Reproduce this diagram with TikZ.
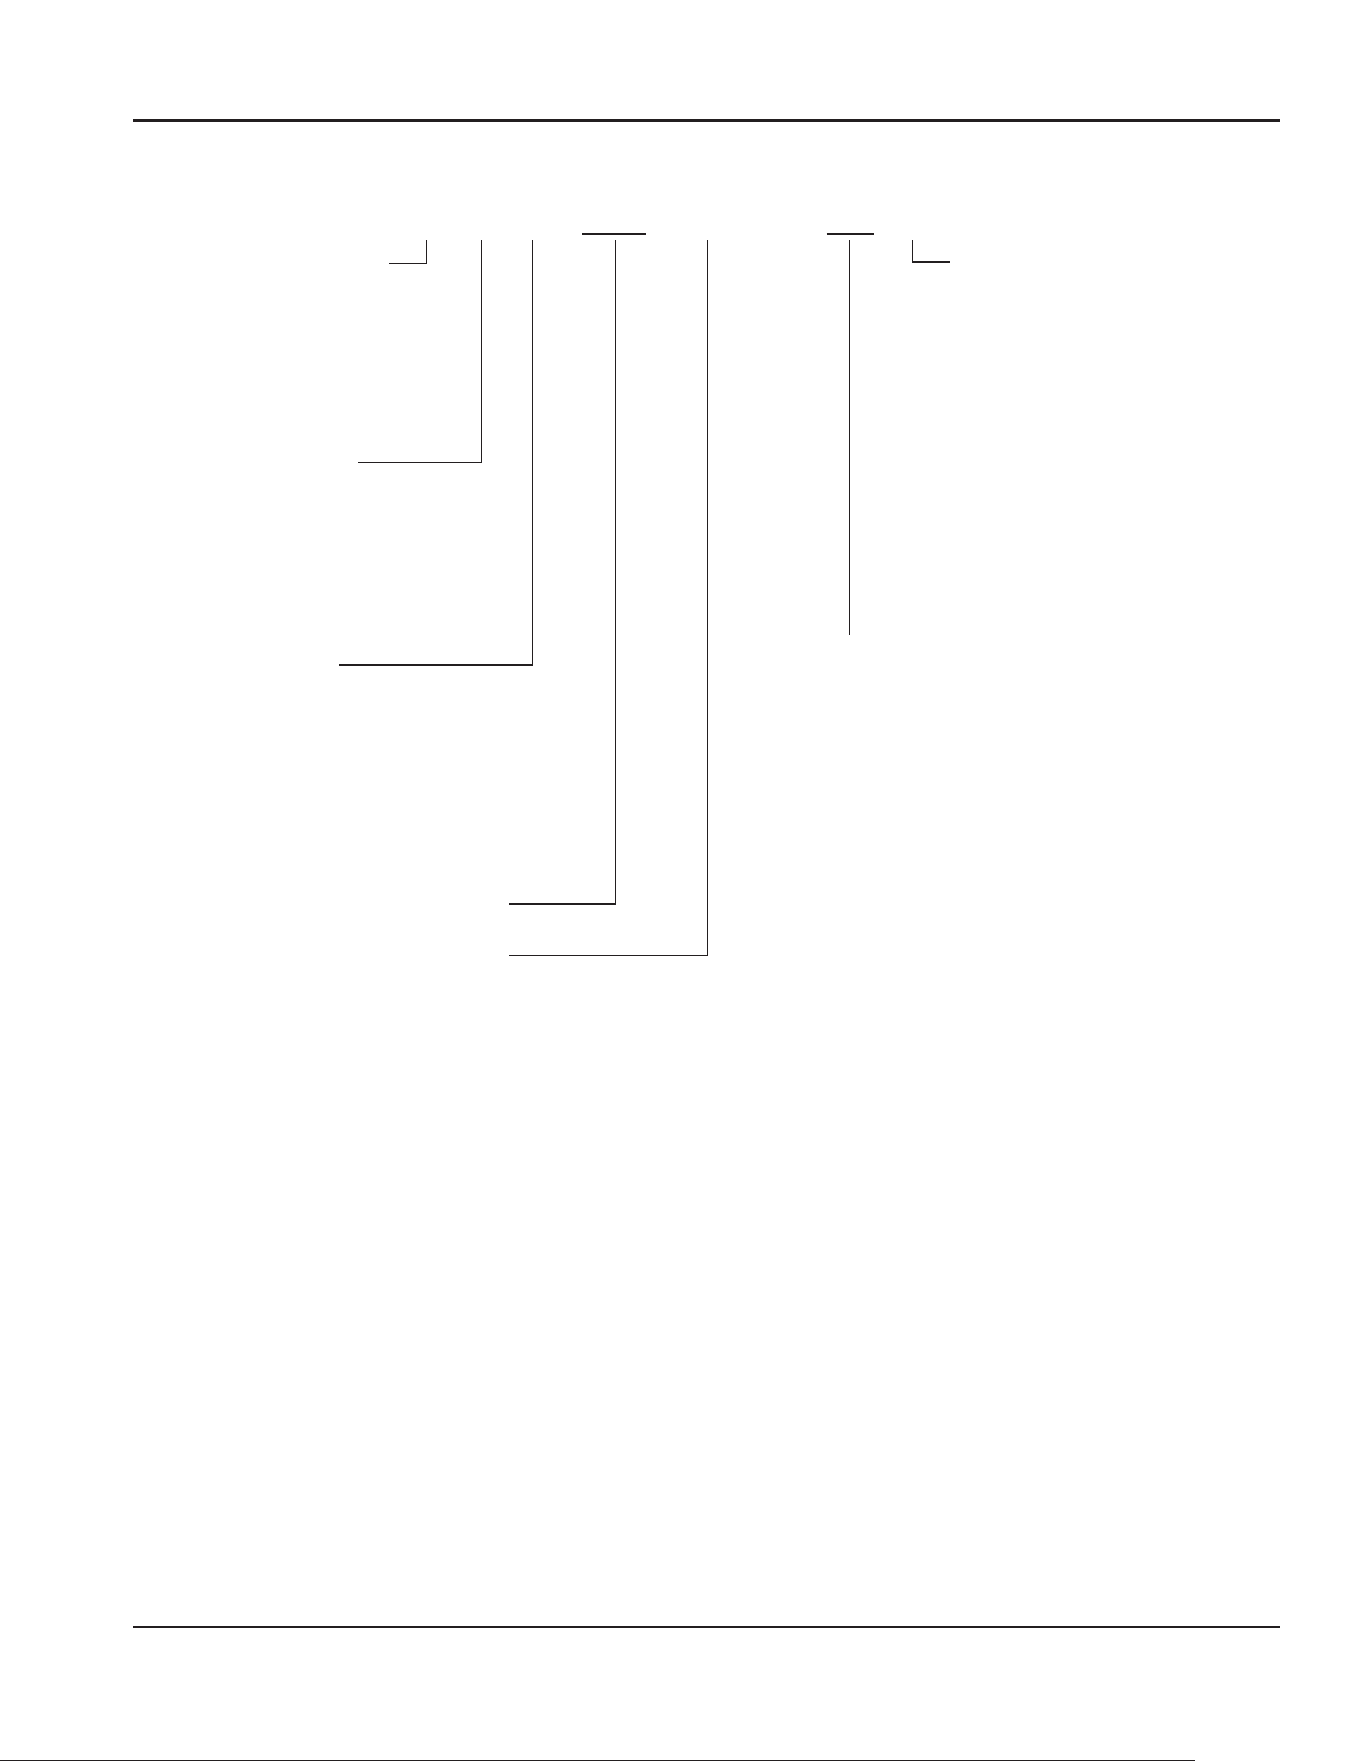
\documentclass[tikz,border=0pt]{standalone}
\usepackage{tikz}
\usetikzlibrary{positioning, calc}
\definecolor{ink}{HTML}{231F20}

\begin{document}
\begin{tikzpicture}
  [
      x=0.45bp, y=-0.45bp,
      rule/.style={line width=1.36pt, color=ink},
      thinrule/.style={line width=1.05pt, color=ink},
      leader/.style={line width=0.7pt, color=ink},
      capbar/.style={line width=1.2pt, color=ink},
      edgeline/.style={line width=0.45pt, color=ink},
    ]
    \useasboundingbox (0,0) rectangle (1361,1761);

    % page rules
    \coordinate (rule top w) at (133,120.3);
    \coordinate (rule top e) at (1280,120.3);
    \coordinate (rule bot w) at (133,1627);
    \coordinate (rule bot e) at (1280,1627);
    \coordinate (edge w) at (0,1760);
    \coordinate (edge e) at (1195,1760);
    \draw [rule] (rule top w) -- (rule top e);
    \draw [thinrule] (rule bot w) -- (rule bot e);
    \draw [edgeline] (edge w) -- (edge e);

    % bars over the callouts
    \coordinate (bar1 w) at (582,234);
    \coordinate (bar1 e) at (645.5,234);
    \coordinate (bar2 w) at (826.5,234);
    \coordinate (bar2 e) at (873.5,234);
    \foreach \i in {bar1,bar2}
      \draw [capbar] (\i\space w) -- (\i\space e);

    % leader lines, bent to the left
    \foreach \n/\x/\y/\xe in {a/426.7/263.5/388.5, b/481.5/462.3/358, c/532.5/664.8/339,
                              d/615.3/904/508.7, e/707.5/955.6/508.7}
    {
      \coordinate (top-\n) at (\x,240);
      \coordinate (end-\n) at (\xe,\y);
      \draw [leader] (top-\n) |- (end-\n);
    }
    % straight leader
    \coordinate (top-f) at (849.6,240);
    \coordinate (end-f) at (849.6,635);
    \draw [leader] (top-f) -- (end-f);
    % leader bent to the right
    \coordinate (top-g) at (912.5,240);
    \coordinate (end-g) at (950,262);
    \draw [leader] (top-g) |- (end-g);
  \end{tikzpicture}
\end{document}
